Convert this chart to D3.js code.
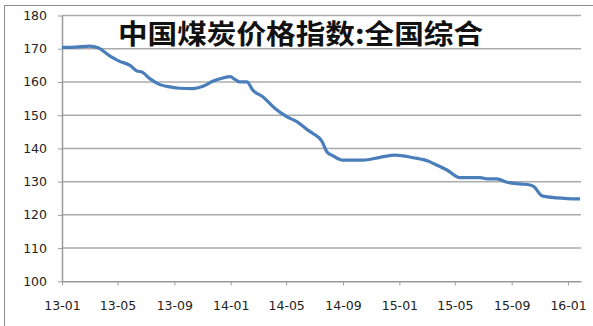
<!DOCTYPE html>
<html>
<head>
<meta charset="utf-8">
<script src="https://cdn.jsdelivr.net/npm/d3@7"></script>
<style>
  body { margin: 0; background: #fff; }
  svg { display: block; }
  .axis text { font-family: "DejaVu Sans", Verdana, sans-serif; font-size: 12.5px; fill: #222; }
  .axis path, .axis line { stroke: #9a9a9a; }
</style>
</head>
<body>
<script>
// chart title and axis setup
var title = "中国煤炭价格指数:全国综合";
var yTicks = [100, 110, 120, 130, 140, 150, 160, 170, 180];
var xTickLabels = ["13-01","13-05","13-09","14-01","14-05","14-09","15-01","15-05","15-09","16-01"];

// readings (date, index value)
var dates = ["2013-01-01","2013-01-31","2013-03-02","2013-03-20","2013-04-15","2013-05-06","2013-05-28",
  "2013-06-12","2013-06-23","2013-07-10","2013-08-01","2013-08-23","2013-09-13","2013-10-11","2013-11-02",
  "2013-11-24","2013-12-15","2013-12-31","2014-01-10","2014-01-21","2014-02-05","2014-02-18","2014-03-12",
  "2014-04-07","2014-05-03","2014-05-25","2014-06-17","2014-06-28","2014-07-18","2014-07-28","2014-08-10",
  "2014-08-30","2014-10-14","2014-11-20","2014-12-23","2015-01-31","2015-03-04","2015-03-15","2015-04-14",
  "2015-05-12","2015-06-25","2015-07-10","2015-07-31","2015-08-22","2015-09-19","2015-10-11","2015-10-19",
  "2015-11-06","2015-12-08","2015-12-30","2016-01-27"];
var values = [170.4,170.5,170.8,170.3,167.8,166.2,165.0,
  163.3,163.0,161.0,159.2,158.5,158.1,158.0,158.7,
  160.3,161.2,161.6,160.8,160.0,160.0,157.5,155.5,
  152.0,149.5,148.0,145.5,144.5,142.0,139.0,137.8,
  136.5,136.5,137.3,138.0,137.2,136.2,135.5,133.5,
  131.2,131.2,130.8,130.8,129.8,129.3,129.0,128.5,
  125.7,125.1,124.9,124.8];

var W = 593, H = 326;
var plotLeft = 62, plotRight = 581, plotTop = 15.5, plotBottom = 281.3;

var parse = d3.timeParse("%Y-%m-%d");
var data = dates.map(function(d, i){ return {date: parse(d), v: values[i]}; });

var svg = d3.select("body").append("svg")
    .attr("width", W)
    .attr("height", H);

// outer chart frame
svg.append("rect")
    .attr("x", 4.5).attr("y", 5.5)
    .attr("width", W).attr("height", H)
    .attr("fill", "none")
    .attr("stroke", "#8c8c8c");

var x = d3.scaleTime()
    .domain([parse("2013-01-01"), parse("2016-01-29")])
    .range([plotLeft, plotRight]);

var y = d3.scaleLinear()
    .domain([100, 180])
    .range([plotBottom, plotTop]);

// gridlines
svg.append("g")
  .selectAll("line")
  .data(yTicks.slice(1))
  .enter().append("line")
    .attr("x1", plotLeft).attr("x2", plotRight)
    .attr("y1", function(d){ return y(d); })
    .attr("y2", function(d){ return y(d); })
    .attr("stroke", "#ababab")
    .attr("stroke-width", 1.5);

// y axis
var yAxis = svg.append("g")
    .attr("class", "axis")
    .attr("transform", "translate(" + plotLeft + ",0)")
    .call(d3.axisLeft(y).tickValues(yTicks).tickSize(4).tickPadding(11).tickSizeOuter(0));
yAxis.select(".domain").attr("stroke-width", 1.5);

// x axis
var tickDates = xTickLabels.map(function(s){ return parse("20" + s + "-01"); });
var xAxis = svg.append("g")
    .attr("class", "axis")
    .attr("transform", "translate(0," + plotBottom + ")")
    .call(d3.axisBottom(x).tickValues(tickDates).tickSize(4).tickPadding(16).tickSizeOuter(0)
      .tickFormat(function(d, i){ return xTickLabels[i]; }));
xAxis.select(".domain").attr("stroke-width", 1.5);

// the series
var line = d3.line()
    .x(function(d){ return x(d.date); })
    .y(function(d){ return y(d.v); })
    .curve(d3.curveMonotoneX);

svg.append("path")
    .datum(data)
    .attr("d", line)
    .attr("fill", "none")
    .attr("stroke", "#4a7ebb")
    .attr("stroke-width", 3.2)
    .attr("stroke-linejoin", "round");

// title
svg.append("text")
    .attr("x", 300.5)
    .attr("y", 44)
    .attr("text-anchor", "middle")
    .attr("font-family", "'Noto Sans CJK SC', sans-serif")
    .attr("font-weight", "bold")
    .attr("font-size", 27)
    .attr("textLength", 365)
    .attr("lengthAdjust", "spacingAndGlyphs")
    .attr("fill", "#111")
    .text(title);
</script>
</body>
</html>
